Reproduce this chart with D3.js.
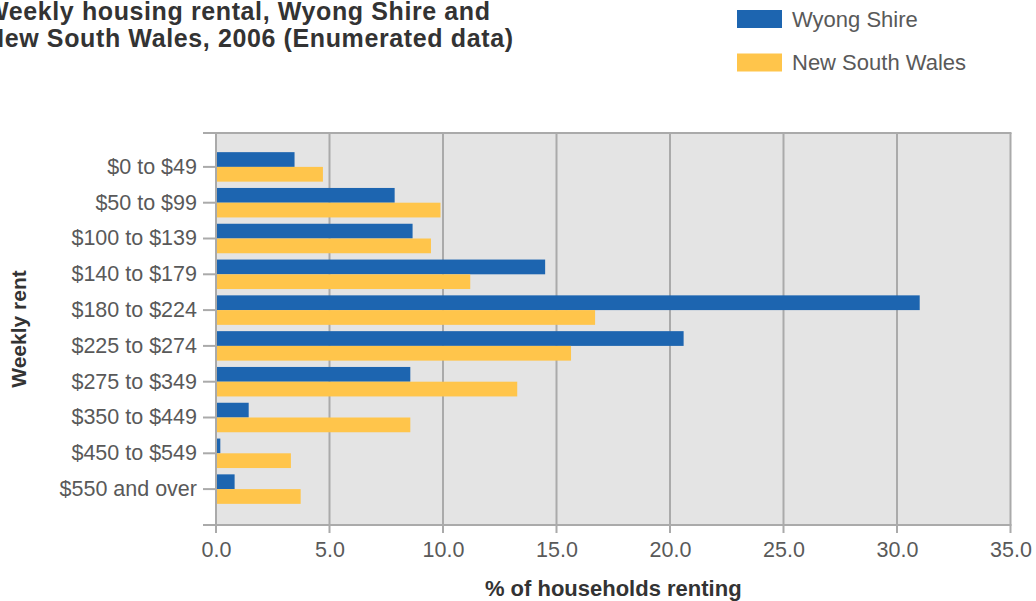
<!DOCTYPE html>
<html>
<head>
<meta charset="utf-8">
<script src="https://cdn.jsdelivr.net/npm/d3@7"></script>
<style>
  html, body { margin: 0; padding: 0; background: #ffffff; }
  svg { display: block; font-family: "Liberation Sans", Arial, sans-serif; }
</style>
</head>
<body>
<svg id="chart" width="1036" height="601"></svg>
<script>
const categories = ["$0 to $49", "$50 to $99", "$100 to $139", "$140 to $179", "$180 to $224",
  "$225 to $274", "$275 to $349", "$350 to $449", "$450 to $549", "$550 and over"];
const seriesNames = ["Wyong Shire", "New South Wales"];
const wyong = [3.46, 7.87, 8.66, 14.5, 31.0, 20.6, 8.56, 1.44, 0.19, 0.82];
const nsw = [4.71, 9.89, 9.47, 11.2, 16.7, 15.64, 13.27, 8.56, 3.30, 3.73];
const xTicks = [0, 5, 10, 15, 20, 25, 30, 35];
const titleLines = ["Weekly housing rental, Wyong Shire and", "New South Wales, 2006 (Enumerated data)"];
const xTitle = "% of households renting";
const yTitle = "Weekly rent";

const colors = { "Wyong Shire": "#1d65b0", "New South Wales": "#ffc54b" };
const rows = categories.map((c, i) => ({ cat: c, "Wyong Shire": wyong[i], "New South Wales": nsw[i] }));

const svg = d3.select("#chart");
const plot = { left: 216, right: 1010.5, top: 133, bottom: 525 };

const x = d3.scaleLinear().domain([0, 35]).range([plot.left, plot.right]);
const y0 = d3.scaleBand().domain(categories).range([149, 507]).padding(0);
const y1 = d3.scaleBand().domain(seriesNames).range([0, y0.bandwidth()]).paddingInner(0).paddingOuter(0.214);

// background
svg.append("rect").attr("x", plot.left).attr("y", plot.top)
  .attr("width", plot.right - plot.left).attr("height", plot.bottom - plot.top)
  .attr("fill", "#e4e4e4");

const gridColor = "#aaaaaa";
// vertical grid lines + bottom ticks
svg.append("g").selectAll("line").data(xTicks).join("line")
  .attr("x1", d => x(d)).attr("x2", d => x(d))
  .attr("y1", plot.top).attr("y2", plot.bottom + 8)
  .attr("stroke", gridColor).attr("stroke-width", 2);

// top and bottom horizontal lines
[plot.top, plot.bottom].forEach(yy => {
  svg.append("line").attr("x1", 203).attr("x2", plot.right + 1)
    .attr("y1", yy).attr("y2", yy)
    .attr("stroke", gridColor).attr("stroke-width", 2);
});

// bars
const groups = svg.append("g").selectAll("g").data(rows).join("g")
  .attr("transform", d => `translate(0,${y0(d.cat)})`);
groups.selectAll("rect").data(d => seriesNames.map(k => ({ key: k, value: d[k] }))).join("rect")
  .attr("x", x(0) + 1)
  .attr("y", d => y1(d.key))
  .attr("width", d => Math.max(0, x(d.value) - x(0) - 1))
  .attr("height", y1.bandwidth())
  .attr("fill", d => colors[d.key]);

// y axis
const yAxis = d3.axisLeft(y0).tickSize(13).tickPadding(6);
const gy = svg.append("g").attr("transform", `translate(${plot.left},0)`).call(yAxis);
gy.select(".domain").remove();
gy.selectAll(".tick line").attr("stroke", gridColor).attr("stroke-width", 2);
gy.selectAll(".tick text").attr("fill", "#595959").style("font-size", "21.5px")
  .style("font-family", "'Liberation Sans', Arial, sans-serif");

// x axis
const xAxis = d3.axisBottom(x).tickValues(xTicks).tickFormat(d3.format(".1f")).tickSize(8).tickPadding(9);
const gx = svg.append("g").attr("transform", `translate(0,${plot.bottom})`).call(xAxis);
gx.select(".domain").remove();
gx.selectAll(".tick line").remove();
gx.selectAll(".tick text").attr("fill", "#595959").style("font-size", "21.5px")
  .style("font-family", "'Liberation Sans', Arial, sans-serif");

// axis titles
svg.append("text").attr("x", (plot.left + plot.right) / 2).attr("y", 596)
  .attr("text-anchor", "middle").attr("font-weight", "bold").attr("font-size", 22)
  .attr("fill", "#333333").text(xTitle);
svg.append("text").attr("transform", `translate(26,${(plot.top + plot.bottom) / 2}) rotate(-90)`)
  .attr("text-anchor", "middle").attr("font-weight", "bold").attr("font-size", 21)
  .attr("fill", "#333333").text(yTitle);

// title
const titleSpecs = [{ x: -15, y: 20, len: 505 }, { x: -14, y: 47, len: 527 }];
titleLines.forEach((t, i) => {
  svg.append("text").attr("x", titleSpecs[i].x).attr("y", titleSpecs[i].y)
    .attr("font-weight", "bold").attr("font-size", 25).attr("fill", "#333333")
    .attr("textLength", titleSpecs[i].len).attr("lengthAdjust", "spacing")
    .text(t);
});

// legend
const legend = svg.append("g");
seriesNames.forEach((name, i) => {
  const ly = 10 + i * 43.5;
  legend.append("rect").attr("x", 737).attr("y", ly).attr("width", 45).attr("height", 18)
    .attr("fill", colors[name]);
  legend.append("text").attr("x", 792).attr("y", ly + 9).attr("dy", "0.35em")
    .attr("font-size", 22).attr("fill", "#595959").text(name);
});
</script>
</body>
</html>
